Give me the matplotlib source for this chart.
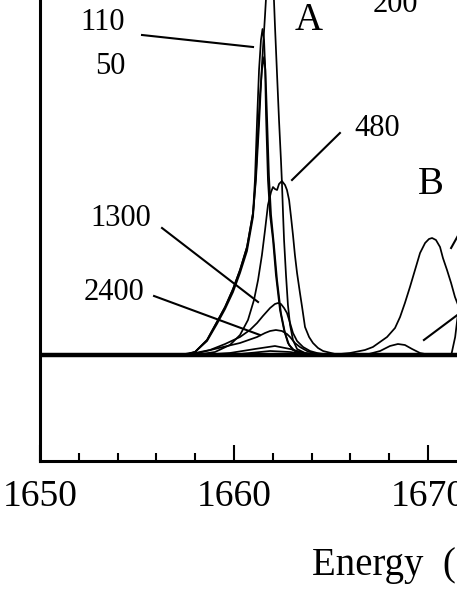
import matplotlib
matplotlib.use("Agg")
import matplotlib.pyplot as plt
from matplotlib.ticker import MultipleLocator

plt.rcParams['font.family'] = ['Liberation Serif', 'DejaVu Serif']

# ---------------- data (energy in eV, intensity in arbitrary units) ----------------
e_200 = [1657.22, 1657.99, 1658.61, 1659.12, 1659.54, 1659.95, 1660.31, 1660.67, 1660.98, 1661.13,
         1661.29, 1661.44, 1661.60, 1661.75, 1661.88, 1662.01, 1662.11, 1662.22, 1662.32, 1662.42,
         1662.47, 1662.53, 1662.58, 1662.68, 1662.78, 1662.89, 1663.04, 1663.25, 1663.66, 1664.43]
i_200 = [0, 3, 15, 33, 48, 66, 85, 108, 142, 175,
         230, 290, 340, 390, 430, 380, 330, 280, 235, 195,
         173, 140, 115, 80, 50, 30, 15, 6, 2, 0]

e_110 = [1657.47, 1657.99, 1658.61, 1659.12, 1659.54, 1659.95, 1660.31, 1660.67, 1660.98, 1661.08,
         1661.19, 1661.29, 1661.39, 1661.47, 1661.55, 1661.60, 1661.65, 1661.75, 1661.86, 1662.01,
         1662.16, 1662.37, 1662.58, 1662.78, 1663.04, 1663.40, 1664.18]
i_110 = [0, 3, 15, 33, 48, 66, 85, 108, 142, 175,
         235, 285, 315, 326, 315, 290, 240, 175, 140, 115,
         80, 45, 25, 12, 5, 2, 0]

e_50 = [1657.47, 1657.99, 1658.61, 1659.12, 1659.54, 1659.95, 1660.31, 1660.67, 1660.98, 1661.13,
        1661.24, 1661.34, 1661.44, 1661.55, 1661.62, 1661.70, 1661.80, 1661.91, 1662.06, 1662.22,
        1662.42, 1662.63, 1662.84, 1663.14, 1663.51, 1664.18]
i_50 = [0, 3, 14, 31, 46, 63, 82, 104, 138, 180,
        225, 260, 285, 298, 285, 240, 180, 140, 110, 75,
        42, 22, 10, 4, 1, 0]

e_480 = [1657.99, 1659.02, 1659.79, 1660.31, 1660.72, 1661.03, 1661.24, 1661.44, 1661.60, 1661.75,
         1661.91, 1662.01, 1662.11, 1662.22, 1662.32, 1662.47, 1662.63, 1662.73, 1662.84, 1662.94,
         1663.04, 1663.14, 1663.25, 1663.40, 1663.51, 1663.66, 1663.87, 1664.07, 1664.33, 1664.59,
         1665.21, 1665.98]
i_480 = [0, 3, 10, 20, 35, 55, 75, 100, 125, 150,
         163, 168, 166, 165, 171, 174, 170, 165, 155, 138,
         120, 100, 82, 62, 48, 28, 18, 12, 7, 4,
         1, 0]

e_1300 = [1657.47, 1658.76, 1659.54, 1660.31, 1660.82, 1661.19, 1661.49, 1661.86, 1662.11, 1662.27,
          1662.42, 1662.58, 1662.73, 1662.89, 1663.04, 1663.25, 1663.56, 1663.92, 1664.28, 1664.95]
i_1300 = [0, 5, 11, 18, 25, 32, 39, 47, 51, 52,
          51, 47, 42, 32, 22, 14, 8, 4, 2, 0]

e_2400 = [1657.73, 1659.43, 1660.31, 1661.19, 1661.60, 1661.86, 1662.16, 1662.47, 1662.73, 1662.89,
          1663.14, 1663.40, 1663.76, 1664.07, 1664.69]
i_2400 = [0, 8, 12, 18, 22, 24, 25, 24, 21, 18,
          12, 8, 4, 2, 0]

e_late1 = [1658.25, 1659.79, 1661.08, 1662.11, 1662.89, 1663.66, 1664.43]
i_late1 = [0, 2, 6, 9, 6, 2, 0]

e_late2 = [1658.51, 1660.31, 1661.86, 1662.89, 1663.92]
i_late2 = [0, 1, 4, 3, 0]

e_b_big = [1664.95, 1665.98, 1666.75, 1667.16, 1667.89, 1668.30, 1668.56, 1668.81, 1669.07, 1669.33,
           1669.59, 1669.85, 1670.05, 1670.21, 1670.41, 1670.62, 1670.77, 1670.98, 1671.19, 1671.39,
           1671.75, 1672.16, 1672.68]
i_b_big = [0, 2, 5, 8, 18, 27, 38, 52, 68, 85,
           102, 112, 116, 117, 115, 108, 97, 85, 72, 58,
           40, 25, 10]

e_b_small = [1666.75, 1667.53, 1668.04, 1668.45, 1668.81, 1669.18, 1669.59, 1670.10]
i_b_small = [0, 4, 9, 11, 10, 6, 2, 0]

e_edge = [1671.20, 1671.40, 1671.60]
i_edge = [0, 18, 50]

e_base = [1650, 1680]
i_base = [0, 0]

# labels: text, energy, intensity, fontsize
labels = ["110", "50", "200", "A", "480", "B", "1300", "2400"]
label_e = [1653.25, 1653.61, 1668.30, 1663.87, 1667.37, 1670.15, 1654.18, 1653.81]
label_i = [332, 288, 350, 335, 226, 170, 137, 62]
label_fs = [22, 22, 22, 28, 22, 28, 22, 22]

# leader lines (start energy, start intensity, end energy, end intensity)
lead_e0 = [1655.26, 1665.46, 1656.29, 1655.88, 1671.19, 1669.79]
lead_i0 = [320, 222, 127, 59, 107, 15]
lead_e1 = [1660.98, 1662.99, 1661.24, 1661.34, 1671.65, 1671.65]
lead_i1 = [308, 175, 53, 20, 123, 42]

xticks_major = [1650, 1660, 1670, 1680]

# ---------------- figure ----------------
W, H = 457, 591
fig = plt.figure(figsize=(W / 100, H / 100), dpi=100)
ax = fig.add_axes([40 / W, 130 / H, 582 / W, 556 / H])
ax.set_xlim(1650, 1680)
ax.set_ylim(-106, 450)

lw = 1.25
ax.plot(e_base, i_base, color='black', lw=3.2, solid_capstyle='butt')
for e, i in [(e_200, i_200), (e_110, i_110), (e_50, i_50), (e_480, i_480),
             (e_1300, i_1300), (e_2400, i_2400), (e_late1, i_late1), (e_late2, i_late2),
             (e_b_big, i_b_big), (e_b_small, i_b_small), (e_edge, i_edge)]:
    ax.plot(e, i, color='black', lw=lw)

for a0, b0, a1, b1 in zip(lead_e0, lead_i0, lead_e1, lead_i1):
    ax.plot([a0, a1], [b0, b1], color='black', lw=1.5)

for t, x, y, fs in zip(labels, label_e, label_i, label_fs):
    ax.text(x, y, t, fontsize=fs, ha='center', va='center')

for s in ['top', 'right']:
    ax.spines[s].set_visible(False)
for s in ['left', 'bottom']:
    ax.spines[s].set_linewidth(2.2)

ax.set_yticks([])
ax.set_xticks(xticks_major)
ax.xaxis.set_minor_locator(MultipleLocator(2))
ax.tick_params(axis='x', which='major', direction='in', length=11.5, width=1.5,
               labelsize=27, pad=13)
ax.tick_params(axis='x', which='minor', direction='in', length=5.8, width=1.5)

fig.text(312 / W, (H - 575) / H, "Energy  (eV)", fontsize=28, ha='left', va='baseline')

fig.savefig("out.png", dpi=100)
